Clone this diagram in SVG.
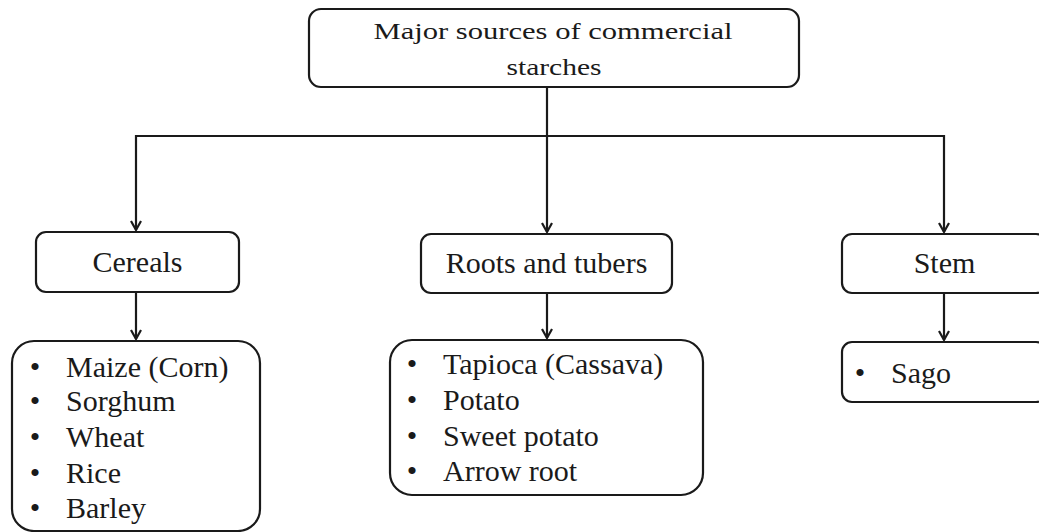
<svg xmlns="http://www.w3.org/2000/svg" width="1039" height="532" viewBox="0 0 1039 532">
<style>
.box{fill:#fff;stroke:#1a1a1a;stroke-width:2.2}
.ln{fill:none;stroke:#1a1a1a;stroke-width:2.2}
.t{font-family:"Liberation Serif","Times New Roman",serif;font-size:30px;fill:#1a1a1a}
.tt{font-family:"Liberation Serif","Times New Roman",serif;font-size:24px;fill:#1a1a1a}
.c{text-anchor:middle}
</style>
<defs>
<marker id="arr" viewBox="0 0 12 12" refX="10" refY="6" markerWidth="12" markerHeight="12" markerUnits="userSpaceOnUse" orient="auto">
<path d="M1,1 L10,6 L1,11" fill="none" stroke="#1a1a1a" stroke-width="2.2"/>
</marker>
</defs>
<g id="connectors">
<path class="ln" d="M547,87 L547,232" marker-end="url(#arr)"/>
<path class="ln" d="M136,136 L944,136"/>
<path class="ln" d="M136,135 L136,230" marker-end="url(#arr)"/>
<path class="ln" d="M944,135 L944,232" marker-end="url(#arr)"/>
<path class="ln" d="M136,293 L136,339" marker-end="url(#arr)"/>
<path class="ln" d="M547,293 L547,338" marker-end="url(#arr)"/>
<path class="ln" d="M944,293 L944,340" marker-end="url(#arr)"/>
</g>
<g id="root">
<rect class="box" x="309" y="9" width="490" height="78" rx="12"/>
<text class="tt c" x="553" y="39" textLength="359" lengthAdjust="spacingAndGlyphs">Major sources of commercial</text>
<text class="tt c" x="554" y="75" textLength="95" lengthAdjust="spacingAndGlyphs">starches</text>
</g>
<g id="cereals">
<rect class="box" x="36" y="232" width="203" height="60" rx="10"/>
<text class="t c" x="137.5" y="272">Cereals</text>
</g>
<g id="roots">
<rect class="box" x="421" y="234" width="251" height="59" rx="10"/>
<text class="t c" x="546.5" y="273">Roots and tubers</text>
</g>
<g id="stem">
<rect class="box" x="842" y="234" width="204" height="59" rx="10"/>
<text class="t c" x="944.5" y="273">Stem</text>
</g>
<g id="cereals-list">
<rect class="box" x="12" y="341" width="248" height="190" rx="22"/>
<text class="t c" x="35" y="377">•</text><text class="t" x="66" y="377">Maize (Corn)</text>
<text class="t c" x="35" y="411">•</text><text class="t" x="66" y="411">Sorghum</text>
<text class="t c" x="35" y="447">•</text><text class="t" x="66" y="447">Wheat</text>
<text class="t c" x="35" y="483">•</text><text class="t" x="66" y="483">Rice</text>
<text class="t c" x="35" y="518">•</text><text class="t" x="66" y="518">Barley</text>
</g>
<g id="roots-list">
<rect class="box" x="390" y="340" width="313" height="155" rx="22"/>
<text class="t c" x="412" y="374">•</text><text class="t" x="443" y="374">Tapioca (Cassava)</text>
<text class="t c" x="412" y="410">•</text><text class="t" x="443" y="410">Potato</text>
<text class="t c" x="412" y="446">•</text><text class="t" x="443" y="446">Sweet potato</text>
<text class="t c" x="412" y="481">•</text><text class="t" x="443" y="481">Arrow root</text>
</g>
<g id="stem-list">
<rect class="box" x="842" y="342" width="204" height="60" rx="10"/>
<text class="t c" x="860" y="383">•</text><text class="t" x="891" y="383">Sago</text>
</g>
</svg>
